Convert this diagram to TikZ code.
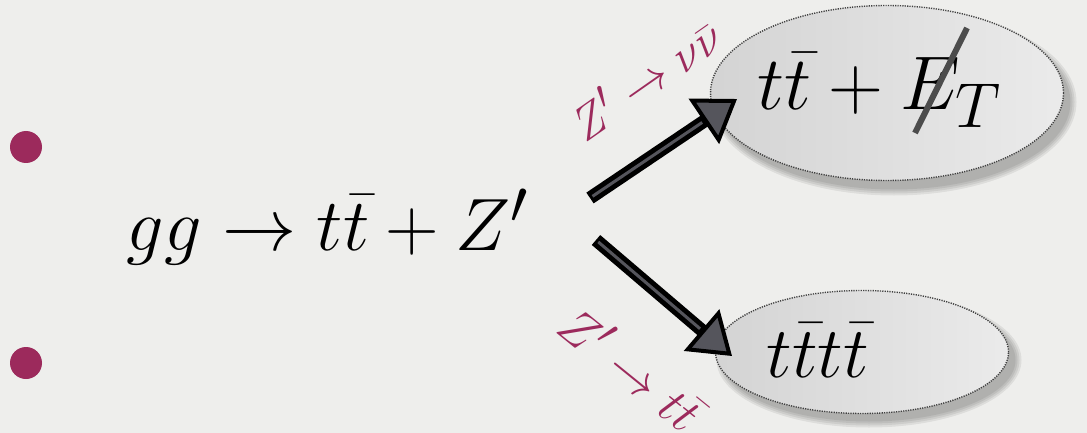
\documentclass[tikz,border=0pt]{standalone}
\usetikzlibrary{shapes.geometric,arrows.meta}
\definecolor{paper}{RGB}{238,238,236}
\definecolor{plum}{RGB}{156,42,92}
\definecolor{arrowgray}{RGB}{85,85,92}
\begin{document}
\begin{tikzpicture}[x=0.5pt,y=-0.5pt,
  bubble/.style={ellipse, draw=black!75, line width=0.7pt, dash pattern=on 0.6pt off 0.6pt,
    left color=black!17, right color=black!8, inner sep=0pt},
  bshadow/.style={ellipse, fill=black, opacity=0.07, draw=none, inner sep=0pt},
  bigmath/.style={font=\Huge, inner sep=0pt, anchor=base},
  lbl/.style={text=plum, font=\Huge, inner sep=0pt},
  bodyarrow/.style={line width=6.5pt, black,
    -{Triangle[length=20pt,width=27pt,fill=arrowgray,line width=2pt]}},
  stripe/.style={arrowgray, line width=1.5pt, shorten >=21pt, shorten <=1.5pt},
  bullet/.style={circle, fill=plum, minimum size=16pt, inner sep=0pt}]
\fill[paper] (0,0) rectangle (1087,433);
\useasboundingbox (0,0) rectangle (1087,433);
% bullets
\node[bullet] (b1) at (26,147) {};
\node[bullet] (b2) at (26,363) {};
% main reaction
\node[bigmath, scale=1.49] (main) at (328,250) {$gg\to t\bar{t}+Z'$};
% shadows
\foreach \k in {0,2,4,6}{
  \node[bshadow, minimum width=176.5pt+\k pt, minimum height=87.5pt+\k pt] at (894,102) {};
  \node[bshadow, minimum width=146.5pt+\k pt, minimum height=61.5pt+\k pt] at (869,360) {};
}
% ellipses
\node[bubble, minimum width=176.5pt, minimum height=87.5pt] (top) at (887,93) {};
\node[bubble, minimum width=146.5pt, minimum height=61.5pt] (bot) at (862,352) {};
\node[bigmath, scale=1.53] (toptext) at (880,110) {$t\bar{t}+E_T$};
\draw[line width=3pt, black!70] (967,28) -- (915,133);
\node[bigmath, scale=1.45] (bottext) at (818,377) {$t\bar{t}t\bar{t}$};
% arrows
\coordinate (a1s) at (590,198);
\coordinate (a1e) at (737,99);
\coordinate (a2s) at (596,240);
\coordinate (a2e) at (732,356);
\draw[bodyarrow] (a1s) -- (a1e);
\draw[stripe] (a1s) -- (a1e);
\draw[bodyarrow] (a2s) -- (a2e);
\draw[stripe] (a2s) -- (a2e);
% labels
\node[lbl, scale=0.95, rotate=35] (l1) at (645,78) {$Z'\to\nu\bar{\nu}$};
\node[lbl, scale=1.02, rotate=-39] (l2) at (632,367) {$Z'\to t\bar{t}$};
\end{tikzpicture}
\end{document}
